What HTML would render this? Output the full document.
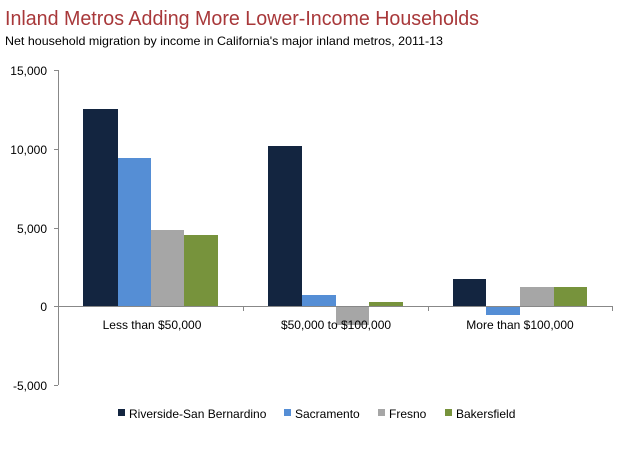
<!DOCTYPE html>
<html><head><style>
body{margin:0;background:#fff;}
svg text{font-family:"Liberation Sans",sans-serif;}
</style></head><body>
<svg width="624" height="464" xmlns="http://www.w3.org/2000/svg">
<text x="5" y="25" font-size="20" fill="#a8383a" textLength="474" lengthAdjust="spacingAndGlyphs">Inland Metros Adding More Lower-Income Households</text>
<text x="5" y="45" font-size="12" fill="#000" textLength="438" lengthAdjust="spacingAndGlyphs">Net household migration by income in California's major inland metros, 2011-13</text>
<g stroke="#888" stroke-width="1" fill="none">
<line x1="58.5" y1="70" x2="58.5" y2="385"/>
<line x1="54" y1="70.5" x2="58" y2="70.5"/>
<line x1="54" y1="149.5" x2="58" y2="149.5"/>
<line x1="54" y1="228.5" x2="58" y2="228.5"/>
<line x1="54" y1="385.5" x2="58" y2="385.5"/>
</g>
<g font-size="12" fill="#000" text-anchor="end">
<text x="47" y="75">15,000</text>
<text x="47" y="154">10,000</text>
<text x="47" y="233">5,000</text>
<text x="47" y="311">0</text>
<text x="47" y="390">-5,000</text>
</g>
<rect x="83" y="109" width="35" height="197" fill="#132540"/>
<rect x="118" y="158" width="33" height="148" fill="#558ed5"/>
<rect x="151" y="230" width="33" height="76" fill="#a6a6a6"/>
<rect x="184" y="235" width="34" height="71" fill="#77933c"/>
<rect x="268" y="146" width="34" height="160" fill="#132540"/>
<rect x="302" y="295" width="34" height="11" fill="#558ed5"/>
<rect x="336" y="306" width="33" height="19" fill="#a6a6a6"/>
<rect x="369" y="302" width="34" height="4" fill="#77933c"/>
<rect x="453" y="279" width="33" height="27" fill="#132540"/>
<rect x="486" y="306" width="34" height="9" fill="#558ed5"/>
<rect x="520" y="287" width="34" height="19" fill="#a6a6a6"/>
<rect x="554" y="287" width="33" height="19" fill="#77933c"/>
<g stroke="#888" stroke-width="1">
<line x1="54" y1="306.5" x2="613" y2="306.5"/>
<line x1="243.5" y1="306" x2="243.5" y2="311"/>
<line x1="428.5" y1="306" x2="428.5" y2="311"/>
<line x1="612.5" y1="306" x2="612.5" y2="311"/>
</g>
<g font-size="12" fill="#000" text-anchor="middle">
<text x="152" y="329">Less than $50,000</text>
<text x="336" y="329">$50,000 to $100,000</text>
<text x="520" y="329">More than $100,000</text>
</g>
<rect x="118" y="409" width="7" height="7" fill="#132540"/>
<rect x="284" y="409" width="7" height="7" fill="#558ed5"/>
<rect x="378" y="409" width="7" height="7" fill="#a6a6a6"/>
<rect x="445" y="409" width="7" height="7" fill="#77933c"/>
<g font-size="12" fill="#000">
<text x="129" y="418">Riverside-San Bernardino</text>
<text x="295" y="418">Sacramento</text>
<text x="389" y="418">Fresno</text>
<text x="456" y="418">Bakersfield</text>
</g>
</svg>
</body></html>
